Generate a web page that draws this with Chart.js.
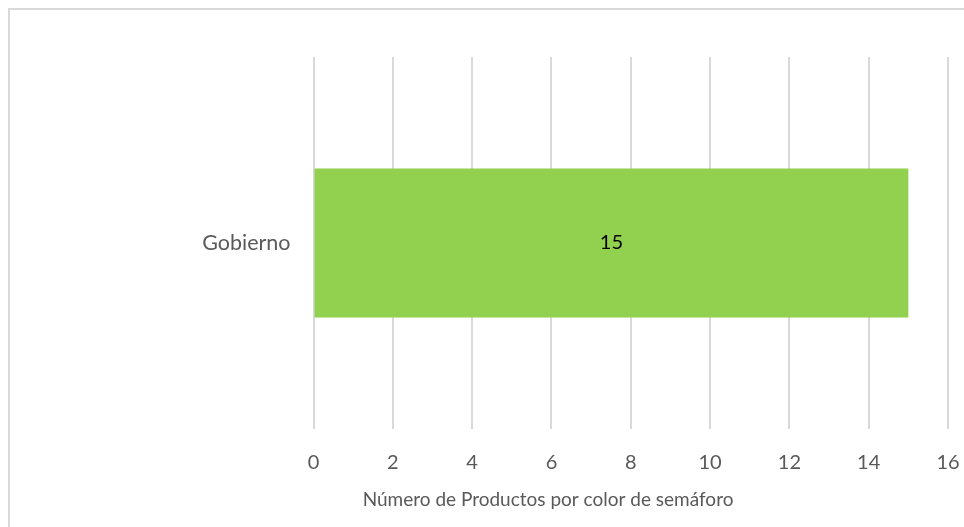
<!DOCTYPE html>
<html>
<head>
<meta charset="utf-8">
<script src="https://cdn.jsdelivr.net/npm/chart.js@4/dist/chart.umd.min.js"></script>
<style>
  html, body { margin: 0; padding: 0; background: #fff; overflow: hidden; }
  #frame { position: absolute; left: 8px; top: 8px; width: 1100px; height: 700px; border: 2px solid #d9d9d9; box-sizing: border-box; }
  #wrap { position: absolute; left: 0; top: 0; width: 964px; height: 527px; }
</style>
</head>
<body>
<div id="frame"></div>
<div id="wrap"><canvas id="c" width="964" height="527"></canvas></div>
<script>
const categories = ['Gobierno'];
const values = [15];
const xTicks = [0, 2, 4, 6, 8, 10, 12, 14, 16];
const xTitle = 'Número de Productos por color de semáforo';

const FONT = 'Lato';

const dataLabels = {
  id: 'dataLabels',
  afterDatasetsDraw(chart) {
    const ctx = chart.ctx;
    const meta = chart.getDatasetMeta(0);
    ctx.save();
    ctx.font = '20px ' + FONT;
    ctx.fillStyle = '#000000';
    ctx.textAlign = 'center';
    ctx.textBaseline = 'middle';
    meta.data.forEach((bar, i) => {
      const x = (bar.x + bar.base) / 2;
      ctx.fillText(String(values[i]), x, bar.y);
    });
    ctx.restore();
  }
};

// Axis title, centred where the original places it (left of the plot centre)
const axisTitle = {
  id: 'axisTitle',
  afterDraw(chart) {
    const ctx = chart.ctx;
    ctx.save();
    ctx.font = '19px ' + FONT;
    ctx.fillStyle = '#595959';
    ctx.textAlign = 'center';
    ctx.textBaseline = 'middle';
    ctx.fillText(xTitle, chart.width * 0.5685, chart.height - 27);
    ctx.restore();
  }
};

new Chart(document.getElementById('c'), {
  type: 'bar',
  data: {
    labels: categories,
    datasets: [{
      data: values,
      backgroundColor: '#92d050',
      borderWidth: 0,
      barPercentage: 0.4,
      categoryPercentage: 1.0
    }]
  },
  options: {
    indexAxis: 'y',
    responsive: false,
    animation: false,
    layout: { padding: { top: 57, right: 16, left: 0, bottom: 0 } },
    plugins: { legend: { display: false }, tooltip: { enabled: false } },
    scales: {
      x: {
        min: 0, max: 16,
        afterBuildTicks(scale) { scale.ticks = xTicks.map(v => ({ value: v })); },
        afterFit(scale) { scale.height = 98; },
        grid: { color: '#d9d9d9', lineWidth: 2, drawTicks: true, tickLength: 20, tickColor: 'rgba(0,0,0,0)' },
        border: { display: false },
        ticks: { color: '#595959', font: { family: FONT, size: 20 }, padding: 2, maxRotation: 0 },
        title: { display: false }
      },
      y: {
        afterFit(scale) { scale.width = 313.5; },
        grid: { display: false, drawTicks: false },
        border: { display: false },
        ticks: { color: '#595959', font: { family: FONT, size: 21.5 }, padding: 23 }
      }
    }
  },
  plugins: [dataLabels, axisTitle]
});
</script>
</body>
</html>
